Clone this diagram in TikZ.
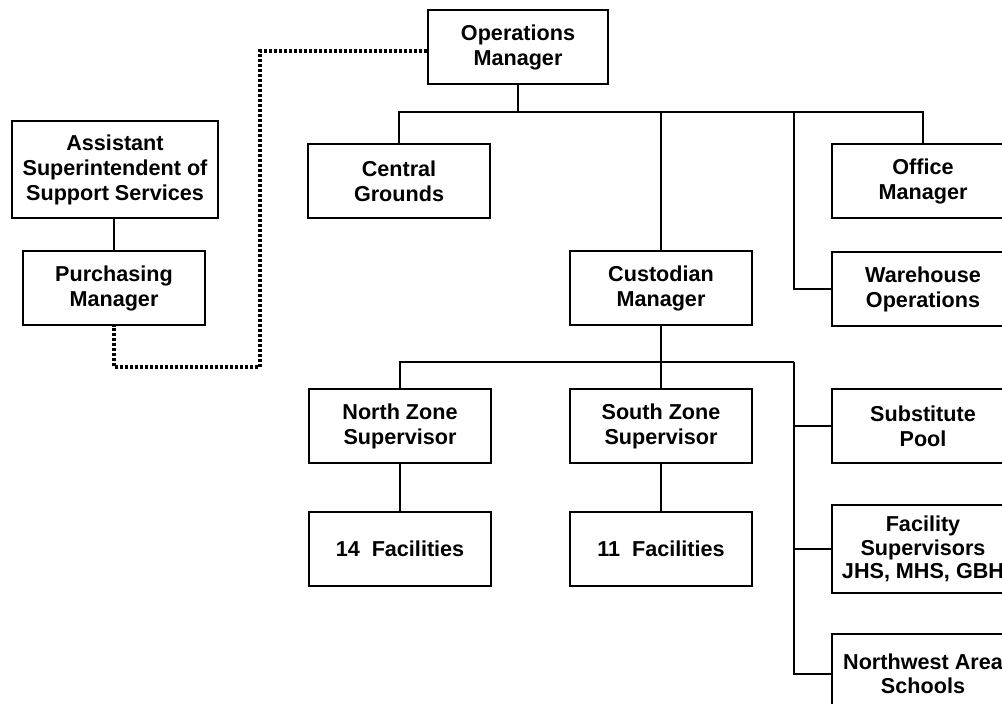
\documentclass[tikz,border=0pt]{standalone}
\usepackage{fontspec}
\setmainfont{Liberation Sans}
\begin{document}
\begin{tikzpicture}[x=1pt,y=-1pt,
  orgbox/.style={draw=black,line width=1.6pt,fill=white,inner sep=0pt,
    minimum width=182pt,minimum height=74pt,align=center,
    font=\fontsize{21.6}{25}\selectfont\bfseries},
  link/.style={draw=black,line width=1.6pt},
  dotlink/.style={draw=black,line width=3.2pt,dash pattern=on 3.2pt off 1.8pt}]
\useasboundingbox (0,0) rectangle (1002,704);
\clip (0,0) rectangle (1002,704);

% boxes
\node[orgbox,minimum width=180pt] (ops) at (518,47) {Operations\\Manager};
\node[orgbox,minimum width=206pt,minimum height=97pt] (asst) at (115,169.5) {Assistant\\Superintendent of\\Support Services};
\node[orgbox] (purch) at (114,288) {Purchasing\\Manager};
\node[orgbox] (central) at (399,181) {Central\\Grounds};
\node[orgbox] (office) at (923,181) {Office\\Manager};
\node[orgbox] (cust) at (661,288) {Custodian\\Manager};
\node[orgbox] (ware) at (923,289) {Warehouse\\Operations};
\node[orgbox] (north) at (400,426) {North Zone\\Supervisor};
\node[orgbox] (south) at (661,426) {South Zone\\Supervisor};
\node[orgbox] (sub) at (923,426) {Substitute\\Pool};
\node[orgbox] (f14) at (400,549) {14\ \ Facilities};
\node[orgbox] (f11) at (661,549) {11\ \ Facilities};
\node[orgbox,minimum height=88pt,font=\fontsize{21.6}{23.5}\selectfont\bfseries] (facsup) at (923,549) {Facility\\Supervisors\\JHS, MHS, GBH};
\node[orgbox,minimum height=80pt,font=\fontsize{21.6}{23.5}\selectfont\bfseries] (nw) at (923,674) {Northwest Area\\Schools};

% bus junctions
\coordinate (topbus) at (0,112);
\coordinate (wbus) at (794,112);
\coordinate (cbus) at (0,362);
\coordinate (sbus) at (794,362);
\coordinate (dl1) at (260,51);
\coordinate (dl2) at (260,367);

% operations manager branches
\draw[link] (ops.south) -- (ops.south |- topbus);
\draw[link] (central.north) |- (office.north |- topbus) -- (office.north);
\draw[link] (cust.north) -- (cust.north |- topbus);
\draw[link] (wbus) |- (ware.west);

% custodian manager branches
\draw[link] (cust.south) -- (cust.south |- cbus);
\draw[link] (north.north) |- (sbus);
\draw[link] (south.north) -- (south.north |- cbus);
\draw[link] (sbus) |- (nw.west);
\draw[link] (sbus |- sub.west) -- (sub.west);
\draw[link] (sbus |- facsup.west) -- (facsup.west);

% zone supervisors to facilities
\draw[link] (north.south) -- (f14.north);
\draw[link] (south.south) -- (f11.north);

% support services
\draw[link] (purch.north |- asst.south) -- (purch.north);
\draw[dotlink] (ops.west |- dl1) -- (dl1) -- (dl2) -| (purch.south);
\end{tikzpicture}
\end{document}
